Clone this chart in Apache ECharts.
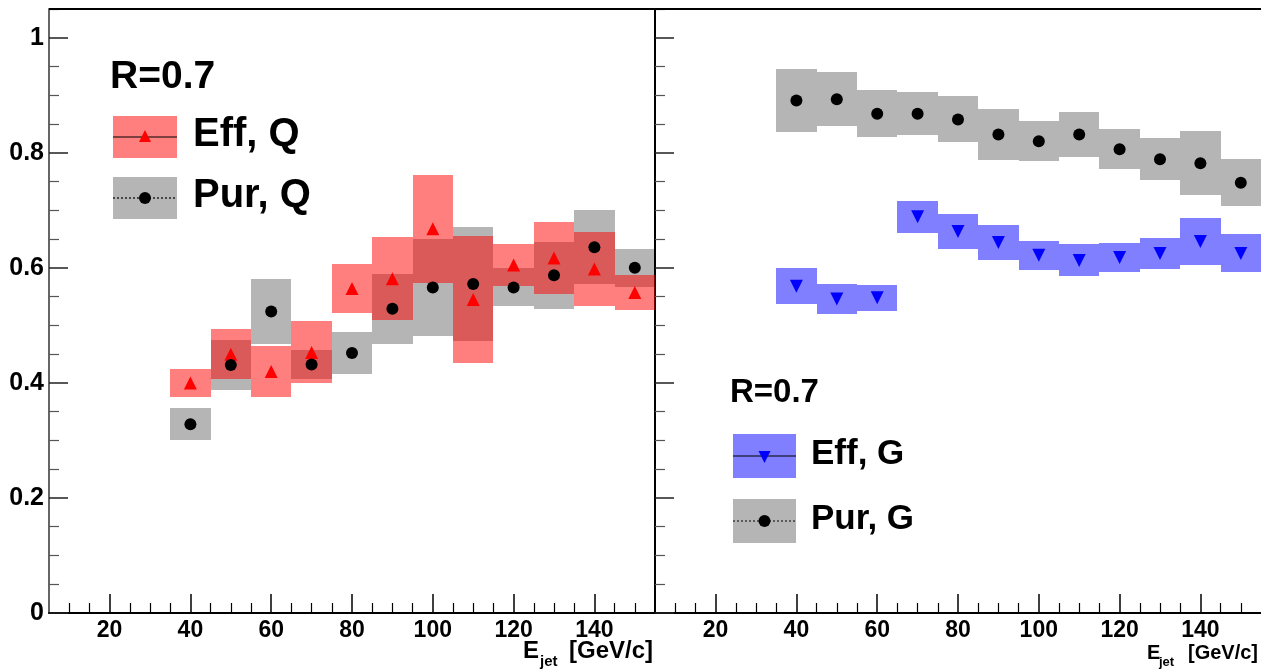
<!DOCTYPE html>
<html>
<head>
<meta charset="utf-8">
<script src="https://cdn.jsdelivr.net/npm/echarts@6/dist/echarts.min.js"></script>
<style>
  html, body { margin: 0; padding: 0; background: #fff; }
  #chart { width: 1261px; height: 669px; }
</style>
</head>
<body>
<div id="chart"></div>
<script>
// ---------------- data ----------------
const energies = [40, 50, 60, 70, 80, 90, 100, 110, 120, 130, 140, 150];
const binHalfWidth = 5;

const effQ    = [0.400, 0.450, 0.420, 0.453, 0.564, 0.581, 0.668, 0.545, 0.605, 0.617, 0.598, 0.557];
const effQSys = [0.024, 0.043, 0.044, 0.054, 0.043, 0.072, 0.094, 0.110, 0.036, 0.062, 0.064, 0.031];
const purQ    = [0.328, 0.431, 0.524, 0.432, 0.452, 0.529, 0.566, 0.572, 0.566, 0.587, 0.636, 0.600];
const purQSys = [0.028, 0.043, 0.057, 0.025, 0.036, 0.061, 0.084, 0.099, 0.033, 0.058, 0.064, 0.033];

const effG    = [0.568, 0.546, 0.548, 0.689, 0.663, 0.644, 0.622, 0.613, 0.618, 0.625, 0.646, 0.625];
const effGSys = [0.031, 0.026, 0.023, 0.028, 0.030, 0.030, 0.025, 0.028, 0.025, 0.027, 0.041, 0.033];
const purG    = [0.891, 0.893, 0.868, 0.868, 0.858, 0.832, 0.820, 0.832, 0.806, 0.789, 0.782, 0.748];
const purGSys = [0.054, 0.047, 0.041, 0.037, 0.040, 0.045, 0.035, 0.039, 0.035, 0.036, 0.056, 0.041];

const xMajorTicks = [20, 40, 60, 80, 100, 120, 140];
const xMinorTicks = [10, 15, 25, 30, 35, 45, 50, 55, 65, 70, 75, 85, 90, 95, 105, 110, 115, 125, 130, 135, 145, 150];
const yMajorTicks = [0, 0.2, 0.4, 0.6, 0.8, 1];
const yMinorTicks = [0.05, 0.1, 0.15, 0.25, 0.3, 0.35, 0.45, 0.5, 0.55, 0.65, 0.7, 0.75, 0.85, 0.9, 0.95, 1.05];

const xRange = [5, 155];
const yRange = [0, 1.05];

// ---------------- styles ----------------
const FONT = '"Liberation Sans", Arial, Helvetica, sans-serif';
const redFill  = 'rgba(255,0,0,0.5)';
const blueFill = 'rgba(0,0,255,0.5)';
const grayFill = 'rgba(0,0,0,0.29)';

const zip = (xs, ys, es) => xs.map((x, i) => es ? [x, ys[i], es[i]] : [x, ys[i]]);

function boxSeries(name, xi, yi, data, fill, z) {
  return {
    name, type: 'custom', xAxisIndex: xi, yAxisIndex: yi, z, clip: true,
    data, silent: true,
    renderItem(params, api) {
      const x = api.value(0), y = api.value(1), e = api.value(2);
      const p1 = api.coord([x - binHalfWidth, y + e]);
      const p2 = api.coord([x + binHalfWidth, y - e]);
      const x1 = Math.round(p1[0]), y1 = Math.round(p1[1]);
      const x2 = Math.round(p2[0]), y2 = Math.round(p2[1]);
      return {
        type: 'rect',
        shape: { x: x1, y: y1, width: x2 - x1, height: y2 - y1 },
        style: { fill, stroke: null }
      };
    }
  };
}
function markerSeries(name, xi, yi, data, symbol, color, rotate, size, z) {
  return {
    name, type: 'scatter', xAxisIndex: xi, yAxisIndex: yi, z,
    data, symbol, symbolSize: size, symbolRotate: rotate || 0,
    itemStyle: { color, opacity: 1 },
    emphasis: { disabled: true }, silent: true
  };
}

function xAxes(gridIndex) {
  return [
    {
      type: 'value', gridIndex, min: xRange[0], max: xRange[1], position: 'bottom',
      axisLine: { show: true, lineStyle: { color: '#000', width: 2 } },
      axisTick: { show: true, inside: true, length: 19, customValues: xMajorTicks, lineStyle: { color: '#000', width: 1.5 } },
      axisLabel: { show: true, customValues: xMajorTicks, margin: 6, color: '#000', fontSize: 23, fontWeight: 'bold', fontFamily: FONT },
      splitLine: { show: false }
    },
    {
      type: 'value', gridIndex, min: xRange[0], max: xRange[1], position: 'bottom',
      axisLine: { show: false },
      axisTick: { show: true, inside: true, length: 10, customValues: xMinorTicks, lineStyle: { color: '#000', width: 1.2 } },
      axisLabel: { show: false },
      splitLine: { show: false }
    }
  ];
}
function yAxes(gridIndex, showLabels, lineColor) {
  return [
    {
      type: 'value', gridIndex, min: yRange[0], max: yRange[1], position: 'left',
      axisLine: { show: true, lineStyle: { color: lineColor, width: 2 } },
      axisTick: { show: true, inside: true, length: 19, customValues: yMajorTicks, lineStyle: { color: '#222', width: 1.5 } },
      axisLabel: { show: showLabels, customValues: yMajorTicks, margin: 5, color: '#000', fontSize: 25, fontWeight: 'bold', fontFamily: FONT },
      splitLine: { show: false }
    },
    {
      type: 'value', gridIndex, min: yRange[0], max: yRange[1], position: 'left',
      axisLine: { show: false },
      axisTick: { show: true, inside: true, length: 10, customValues: yMinorTicks, lineStyle: { color: '#555', width: 1.2 } },
      axisLabel: { show: false },
      splitLine: { show: false }
    }
  ];
}

// legend helpers (graphic decorations)
function legendEntry(bx, by, bw, bh, fill, dashed, marker, label, tx, fontSize) {
  const cx = bx + bw / 2, cy = by + bh / 2;
  const els = [
    { type: 'rect', shape: { x: bx, y: by, width: bw, height: bh }, style: { fill } },
    { type: 'line', shape: { x1: bx, y1: cy, x2: bx + bw, y2: cy }, style: { stroke: '#000', lineWidth: 1.2, lineDash: dashed ? [2, 2] : null } }
  ];
  if (marker === 'circle') els.push({ type: 'circle', shape: { cx, cy, r: 6 }, style: { fill: '#000' } });
  if (marker === 'up') els.push({ type: 'polygon', shape: { points: [[cx, cy - 7], [cx + 6, cy + 5], [cx - 6, cy + 5]] }, style: { fill: '#ff0000' } });
  if (marker === 'down') els.push({ type: 'polygon', shape: { points: [[cx - 6, cy - 5], [cx + 6, cy - 5], [cx, cy + 7]] }, style: { fill: '#0000ff' } });
  els.push({ type: 'text', style: { text: label, x: tx, y: cy - 2, font: 'bold ' + fontSize + 'px ' + FONT, fill: '#000', align: 'left', verticalAlign: 'middle' } });
  return els;
}
function txt(text, x, y, size, align) {
  return { type: 'text', style: { text, x, y, font: 'bold ' + size + 'px ' + FONT, fill: '#000', align: align || 'left', verticalAlign: 'middle' } };
}

const graphics = [
  { type: 'line', shape: { x1: 49, y1: 9, x2: 1261, y2: 9 }, style: { stroke: '#000', lineWidth: 2 }, z: 10 },
  txt('R=0.7', 110, 77, 39),
  ...legendEntry(113, 116, 64, 42, redFill, false, 'up', 'Eff, Q', 193, 40),
  ...legendEntry(113, 177, 64, 42, grayFill, true, 'circle', 'Pur, Q', 193, 40),
  txt('R=0.7', 730, 393, 33),
  ...legendEntry(733, 434, 63, 44, blueFill, false, 'down', 'Eff, G', 811, 35),
  ...legendEntry(733, 499, 63, 44, grayFill, true, 'circle', 'Pur, G', 811, 35),
  // axis titles
  txt('E', 523, 651, 24),
  txt('jet', 540, 662, 15),
  txt('[GeV/c]', 653, 651, 24, 'right'),
  txt('E', 1147, 653, 20),
  txt('jet', 1159, 662, 13),
  txt('[GeV/c]', 1258, 653, 20, 'right')
];

const option = {
  animation: false,
  backgroundColor: '#fff',
  grid: [
    { left: 49, top: 9, width: 606, height: 604 },
    { left: 655, top: 9, width: 606, height: 604 }
  ],
  xAxis: [...xAxes(0), ...xAxes(1)],
  yAxis: [...yAxes(0, true, '#666'), ...yAxes(1, false, '#000')],
  graphic: graphics,
  series: [
    boxSeries('Pur, Q box', 0, 0, zip(energies, purQ, purQSys), grayFill, 2),
    boxSeries('Eff, Q box', 0, 0, zip(energies, effQ, effQSys), redFill, 3),
    markerSeries('Eff, Q', 0, 0, zip(energies, effQ), 'triangle', '#ff0000', 0, 13, 5),
    markerSeries('Pur, Q', 0, 0, zip(energies, purQ), 'circle', '#000000', 0, 12, 6),
    boxSeries('Eff, G box', 2, 2, zip(energies, effG, effGSys), blueFill, 2),
    boxSeries('Pur, G box', 2, 2, zip(energies, purG, purGSys), grayFill, 3),
    markerSeries('Eff, G', 2, 2, zip(energies, effG), 'triangle', '#0000ff', 180, 13, 5),
    markerSeries('Pur, G', 2, 2, zip(energies, purG), 'circle', '#000000', 0, 12, 6)
  ]
};

const chart = echarts.init(document.getElementById('chart'), null, { renderer: 'canvas' });
chart.setOption(option);
</script>
</body>
</html>
